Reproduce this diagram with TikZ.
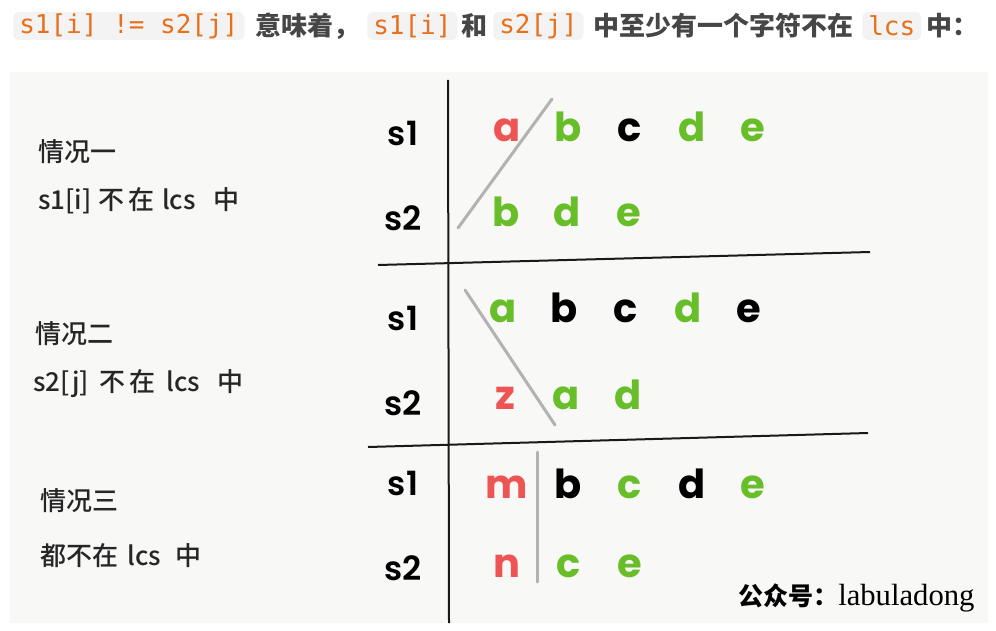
\documentclass[tikz,border=0pt]{standalone}
\usepackage{fontspec}
\setmainfont{Noto Sans CJK SC}
\newfontfamily\casefont{Noto Sans CJK SC Medium}
\newfontfamily\codefont{DejaVu Sans Mono}
\newfontfamily\letterfont{Poppins}
\newfontfamily\labelfont{Poppins}[UprightFont={* SemiBold}]
\newfontfamily\wmfont{Liberation Serif}
\usepackage{tikz}
\usetikzlibrary{positioning}

\definecolor{lcsred}{RGB}{238,84,84}
\definecolor{lcsgreen}{RGB}{104,190,40}
\definecolor{codeorange}{RGB}{232,112,28}
\definecolor{codebg}{RGB}{243,243,243}
\definecolor{panelgray}{RGB}{248,248,247}
\definecolor{headgray}{RGB}{70,70,70}

\begin{document}
\begin{tikzpicture}
    [x=0.75pt, y=-0.75pt,
    codebox/.style={font=\codefont\fontsize{19.5}{20}\selectfont, text=codeorange, fill=codebg, rounded corners=4pt, inner xsep=4.5pt, inner ysep=0pt, minimum height=21pt, anchor=west},
    headtext/.style={font=\bfseries\fontsize{19.5}{20}\selectfont, text=headgray, inner sep=0pt, anchor=west},
    casetext/.style={font=\casefont\fontsize{19.5}{20}\selectfont, text=black!85, inner sep=0pt, anchor=west},
    rowlabel/.style={font=\labelfont\fontsize{25}{25}\selectfont, inner sep=0pt, anchor=base},
    letter/.style={font=\letterfont\bfseries\fontsize{30}{30}\selectfont, inner sep=0pt, minimum width=45.75pt, text height=22pt, text depth=0pt},
    rule/.style={draw=black!90, line width=1.5pt},
    strike/.style={draw=black!30, line width=2.25pt, line cap=round},]

    \useasboundingbox (0,0) rectangle (996,631);
    \fill[white] (0,0) rectangle (996,631);
    \fill[panelgray] (10,72) rectangle (988,623);

    %Header
    \node[codebox](code1) at (13,26) {s1[i] != s2[j]};
    \node[headtext](mean) at (255,26) {意味着，};
    \node[codebox](code2) at (367,26) {s1[i]};
    \node[headtext](and) at (461,26) {和};
    \node[codebox](code3) at (493,26) {s2[j]};
    \node[headtext](notin) at (593,26) {中至少有一个字符不在};
    \node[codebox](code4) at (862,26) {lcs};
    \node[headtext](tail) at (926,26) {中：};

    %Lines
    \coordinate (vtop) at (448,80);
    \coordinate (vbot) at (449,623);
    \coordinate (hAl) at (378,265);
    \coordinate (hAr) at (870,252);
    \coordinate (hBl) at (368,447);
    \coordinate (hBr) at (868,433);
    \draw[rule] (vtop) -- (vbot);
    \draw[rule] (hAl) -- (hAr);
    \draw[rule] (hBl) -- (hBr);

    %Case labels
    \node[casetext](case1) at (38,152) {情况一};
    \node[casetext](case1sub) at (38,201) {s1[i]\hspace{5pt}不\hspace{3pt}在\hspace{6pt}lcs\hspace{13pt}中};
    \node[casetext](case2) at (35,334) {情况二};
    \node[casetext](case2sub) at (33,384) {s2[j]\hspace{8pt}不\hspace{3pt}在\hspace{8pt}lcs\hspace{13pt}中};
    \node[casetext](case3) at (40,501) {情况三};
    \node[casetext](case3sub) at (40,556) {都不在\hspace{7pt}lcs\hspace{11pt}中};

    %Row labels
    \node[rowlabel](s1one) at (403,146) {s1};
    \node[rowlabel](s2one) at (403,230) {s2};
    \node[rowlabel](s1two) at (403,330) {s1};
    \node[rowlabel](s2two) at (403,415) {s2};
    \node[rowlabel](s1three) at (403,495) {s1};
    \node[rowlabel](s2three) at (403,580) {s2};

    %Case one
    \node[letter, text=lcsred, anchor=base](r1a) at (507,142) {a};
    \node[letter, text=lcsgreen](r1b)[right=0pt of r1a] {b};
    \node[letter, text=black](r1c)[right=0pt of r1b] {c};
    \node[letter, text=lcsgreen](r1d)[right=0pt of r1c] {d};
    \node[letter, text=lcsgreen](r1e)[right=0pt of r1d] {e};
    \node[letter, text=lcsgreen, anchor=base](q1b) at (506,227) {b};
    \node[letter, text=lcsgreen](q1d)[right=0pt of q1b] {d};
    \node[letter, text=lcsgreen](q1e)[right=0pt of q1d] {e};

    %Case two
    \node[letter, text=lcsgreen, anchor=base](r2a) at (503,322) {a};
    \node[letter, text=black](r2b)[right=0pt of r2a] {b};
    \node[letter, text=black](r2c)[right=0pt of r2b] {c};
    \node[letter, text=lcsgreen](r2d)[right=0pt of r2c] {d};
    \node[letter, text=black](r2e)[right=0pt of r2d] {e};
    \node[letter, text=lcsred, anchor=base](q2z) at (505,409) {z};
    \node[letter, text=lcsgreen](q2a)[right=0pt of q2z] {a};
    \node[letter, text=lcsgreen](q2d)[right=0pt of q2a] {d};

    %Case three
    \node[letter, text=lcsred, anchor=base](r3m) at (507,498) {m};
    \node[letter, text=black](r3b)[right=0pt of r3m] {b};
    \node[letter, text=lcsgreen](r3c)[right=0pt of r3b] {c};
    \node[letter, text=black](r3d)[right=0pt of r3c] {d};
    \node[letter, text=lcsgreen](r3e)[right=0pt of r3d] {e};
    \node[letter, text=lcsred, anchor=base](q3n) at (507,577) {n};
    \node[letter, text=lcsgreen](q3c)[right=0pt of q3n] {c};
    \node[letter, text=lcsgreen](q3e)[right=0pt of q3c] {e};

    %Strikes
    \coordinate (cut1a) at (458,228);
    \coordinate (cut1b) at (552,99);
    \coordinate (cut2a) at (465,290);
    \coordinate (cut2b) at (555,425);
    \coordinate (cut3a) at (537,452);
    \coordinate (cut3b) at (537,582);
    \draw[strike] (cut1a) -- (cut1b);
    \draw[strike] (cut2a) -- (cut2b);
    \draw[strike] (cut3a) -- (cut3b);

    %Label
    \node[anchor=base west, inner sep=0pt](mark) at (738,605) {{\bfseries\fontsize{18.75}{20}\selectfont 公众号：}{\wmfont\fontsize{23}{23}\selectfont labuladong}};

\end{tikzpicture}
\end{document}
